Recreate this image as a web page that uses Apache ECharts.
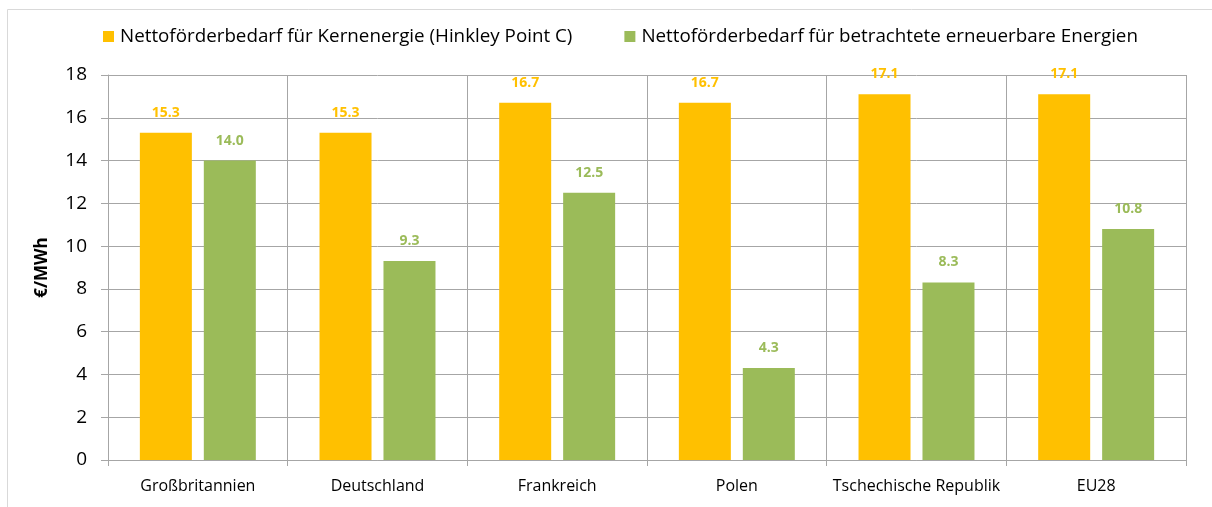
<!DOCTYPE html>
<html><head><meta charset="utf-8">
<script src="https://cdn.jsdelivr.net/npm/echarts@6/dist/echarts.min.js"></script>
<style>html,body{margin:0;padding:0;background:#fff}#c{width:1212px;height:507px}</style>
</head><body><div id="c"></div>
<script>
const categories = ['Großbritannien','Deutschland','Frankreich','Polen','Tschechische Republik','EU28'];
const nuclear = [15.3, 15.3, 16.7, 16.7, 17.1, 17.1];
const renewable = [14.0, 9.3, 12.5, 4.3, 8.3, 10.8];
const seriesNames = ['Nettoförderbedarf für Kernenergie (Hinkley Point C)','Nettoförderbedarf für betrachtete erneuerbare Energien'];
const yTicks = {min:0, max:18, interval:2};
const FONT = '"Open Sans", sans-serif';
const chart = echarts.init(document.getElementById('c'), null, {renderer:'canvas'});
const lbl = (color) => ({show:true, position:'top', distance:13, color:color, fontFamily:FONT, fontWeight:'bold', fontSize:14, formatter:(p)=>p.value.toFixed(1)});
chart.setOption({
  animation:false,
  graphic:[{type:'rect', shape:{x:7.5,y:9.5,width:1220,height:520}, style:{fill:'none', stroke:'#D9D9D9', lineWidth:1}}],
  legend:{top:27, left:103, padding:0, itemWidth:11, itemHeight:11, itemGap:52, icon:'rect',
    textStyle:{fontFamily:FONT, fontSize:18.8, color:'#000', padding:[0,0,0,1]}, data:seriesNames},
  grid:{left:108, right:26, top:75, bottom:47},
  xAxis:{type:'category', data:categories, boundaryGap:true,
    axisLine:{lineStyle:{color:'#A6A6A6'}},
    axisTick:{show:true, interval:0, length:6, lineStyle:{color:'#A6A6A6'}},
    splitLine:{show:true, interval:0, lineStyle:{color:'#A6A6A6'}},
    axisLabel:{interval:0, fontFamily:FONT, fontSize:16, color:'#000', margin:18}},
  yAxis:{type:'value', min:yTicks.min, max:yTicks.max, interval:yTicks.interval,
    name:'€/MWh', nameLocation:'middle', nameGap:57, nameRotate:90,
    nameTextStyle:{fontFamily:FONT, fontSize:17, fontWeight:'bold', color:'#000'},
    axisLine:{show:true, lineStyle:{color:'#A6A6A6'}},
    axisTick:{show:true, length:7, lineStyle:{color:'#A6A6A6'}},
    splitLine:{show:true, lineStyle:{color:'#A6A6A6'}},
    axisLabel:{fontFamily:FONT, fontSize:19, color:'#000', margin:21}},
  series:[
    {name:seriesNames[0], type:'bar', data:nuclear, barWidth:52, barGap:'23%', itemStyle:{color:'#FFC000'}, label:lbl('#FFC000')},
    {name:seriesNames[1], type:'bar', data:renewable, barWidth:52, itemStyle:{color:'#9BBB59'}, label:lbl('#9BBB59')}
  ]
});
</script></body></html>
